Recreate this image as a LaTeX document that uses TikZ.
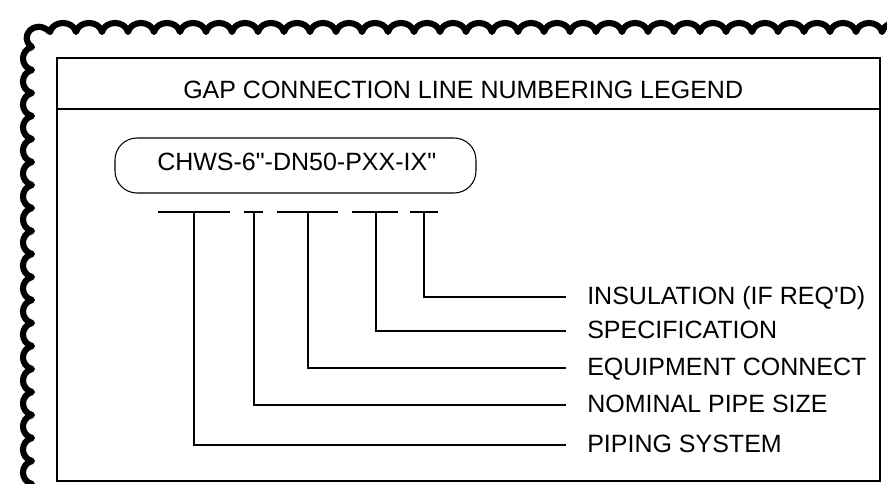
\documentclass[tikz,border=0pt]{standalone}
\usepackage{fontspec}
\setmainfont{Liberation Sans}[Ligatures=TeXOff]
\begin{document}
\begin{tikzpicture}[x=0.75pt,y=-0.75pt,
  txt/.style={font=\fontsize{18.75pt}{22pt}\selectfont, inner sep=0pt, anchor=base west},
  thinline/.style={line width=0.8pt, black},
  frameline/.style={line width=1.9pt, black},
  cloudline/.style={line width=4.6pt, black, line cap=round, line join=round}]
\useasboundingbox (0,0) rectangle (887,483);
% revision cloud
\draw[cloudline] (32,507)
  \foreach \k [evaluate=\k as \y using 507-23*\k] in {0,...,19} {
    .. controls (20,\y-3) and (20,\y-20) .. (32,\y-23) }
  .. controls (18,38) and (34,17) .. (50,32)
  \foreach \k [evaluate=\k as \x using 50+26*\k] in {0,...,33} {
    .. controls (\x+3,20) and (\x+23,20) .. (\x+26,32) };
% frame
\draw[frameline] (57,58) rectangle (880,481);
\draw[frameline] (57,109) -- (880,109);
\node[txt] (title) at (183,98) {GAP CONNECTION LINE NUMBERING LEGEND};
% code pill
\draw[thinline, rounded corners=22*0.75pt] (115,138) rectangle (476,193);
\node[txt] (code) at (157,170) {CHWS-6"-DN50-PXX-IX"};
% underlines
\foreach \a/\b in {158/230, 244/263, 277/338, 352/398, 410/438}
  \draw[thinline] (\a,212) -- (\b,212);
\coordinate (u1) at (194,212);
\coordinate (u2) at (254,212);
\coordinate (u3) at (308,212);
\coordinate (u4) at (376,212);
\coordinate (u5) at (424,212);
% labels
\node[txt] (l5) at (587,304) {INSULATION (IF REQ'D)};
\node[txt] (l4) at (587,338) {SPECIFICATION};
\node[txt] (l3) at (587,375) {EQUIPMENT CONNECT};
\node[txt] (l2) at (587,412) {NOMINAL PIPE SIZE};
\node[txt] (l1) at (587,452) {PIPING SYSTEM};
\coordinate (e5) at (566,297);
\coordinate (e4) at (566,331);
\coordinate (e3) at (566,368);
\coordinate (e2) at (566,405);
\coordinate (e1) at (566,445);
\foreach \i in {1,...,5}
  \draw[thinline] (u\i) |- (e\i);
\end{tikzpicture}
\end{document}
